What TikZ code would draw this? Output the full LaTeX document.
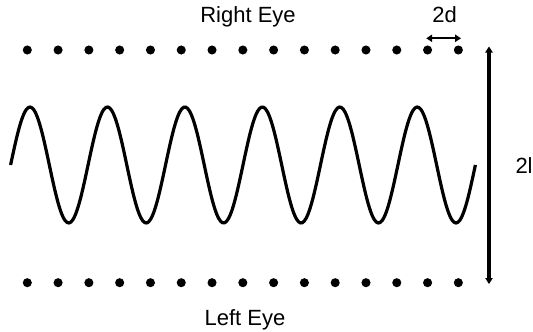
\documentclass[tikz,border=0pt]{standalone}
\usepackage{fontspec}
\setmainfont{Liberation Sans}
\usetikzlibrary{arrows.meta}

\tikzset{every picture/.style={line width=0.75pt}}
\tikzset{
  eyedot/.style={circle, fill=black, inner sep=0pt, minimum size=6.8pt},
  lbl/.style={inner sep=0pt, font=\fontsize{16.5}{19}\selectfont},
  dimarrow/.style={{Triangle[length=4.5pt,width=5.5pt]}-{Triangle[length=4.5pt,width=5.5pt]}}
}

\begin{document}
\begin{tikzpicture}[x=0.75pt,y=0.75pt,yscale=-1,xscale=1]
\useasboundingbox (0,0) rectangle (533,332);

%Dots: right eye (top) and left eye (bottom)
\foreach \i in {0,...,14} {
  \node [eyedot] (top\i) at (27.3+30.79*\i,50) {};
  \node [eyedot] (bot\i) at (27.3+30.79*\i,282.7) {};
}

%Wave
\draw [line width=2.4pt, domain=10.6:475.4, samples=240, smooth]
  plot (\x, {165 - 58*sin((\x-10.6)*4.6473)});

%Straight Lines: 2d
\coordinate (dl) at (top13.center |- 0,38.3);
\coordinate (dr) at (top14.center |- 0,38.3);
\draw [dimarrow, line width=1.5pt] ([xshift=-1]dl) -- ([xshift=2]dr);

%Straight Lines: 2l
\coordinate (lt) at (489,46.5);
\coordinate (lb) at (489,284);
\draw [dimarrow, line width=2.4pt] (lt) -- (lb);

% Text Node
\node [lbl, anchor=base] (right) at (248,22.7) {Right Eye};
% Text Node
\node [lbl, anchor=base] (left) at (245,325) {Left Eye};
% Text Node
\node [lbl, anchor=base] (twod) at (444.7,22.7) {2d};
% Text Node
\node [lbl, anchor=base west] (twol) at (515,173.3) {2l};

\end{tikzpicture}
\end{document}
